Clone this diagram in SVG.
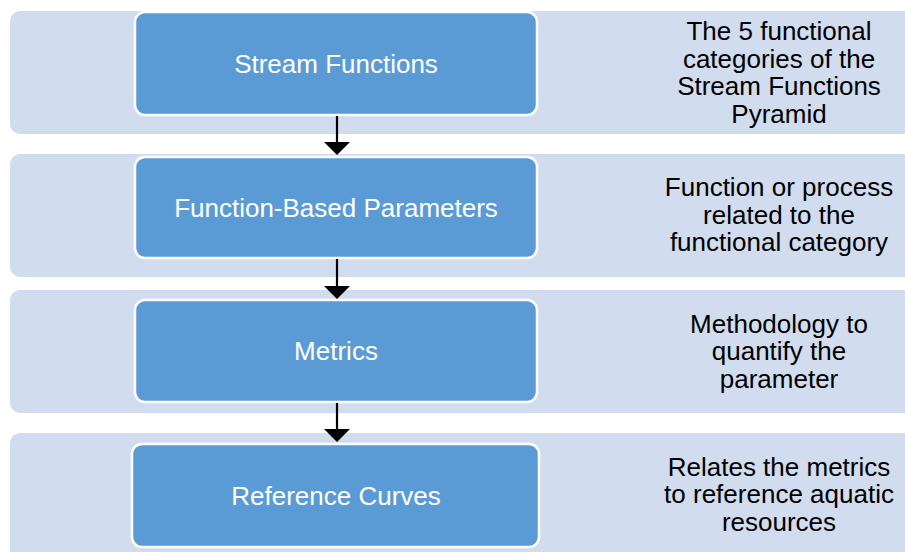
<svg xmlns="http://www.w3.org/2000/svg" width="905" height="552" viewBox="0 0 905 552">
<defs>
<style>
.band{fill:#D1DCEE;}
.box{fill:#5B9BD5;stroke:#FFFFFF;stroke-width:2.5;}
.lbl{font-family:"Liberation Sans",Arial,sans-serif;font-size:26px;fill:#FFFFFF;text-anchor:middle;}
.desc{font-family:"Liberation Sans",Arial,sans-serif;font-size:26px;fill:#000000;text-anchor:middle;}
.conn{stroke:#000000;stroke-width:2.2;fill:none;}
</style>
</defs>
<rect width="905" height="552" fill="#FFFFFF"/>
<g id="band1">
<rect class="band" x="10" y="11" width="910" height="123" rx="10"/>
<text class="desc" x="779" y="40">The 5 functional</text>
<text class="desc" x="779" y="67.5">categories of the</text>
<text class="desc" x="779" y="95">Stream Functions</text>
<text class="desc" x="779" y="122.5">Pyramid</text>
</g>
<g id="band2">
<rect class="band" x="10" y="154" width="910" height="123" rx="10"/>
<text class="desc" x="779" y="196">Function or process</text>
<text class="desc" x="779" y="223.5">related to the</text>
<text class="desc" x="779" y="251">functional category</text>
</g>
<g id="band3">
<rect class="band" x="10" y="290" width="910" height="123" rx="10"/>
<text class="desc" x="779" y="332.5">Methodology to</text>
<text class="desc" x="779" y="360">quantify the</text>
<text class="desc" x="779" y="387.5">parameter</text>
</g>
<g id="band4">
<rect class="band" x="10" y="433" width="910" height="135" rx="10"/>
<text class="desc" x="779" y="475.5">Relates the metrics</text>
<text class="desc" x="779" y="503">to reference aquatic</text>
<text class="desc" x="779" y="530.5">resources</text>
</g>
<g id="node-stream-functions">
<rect class="box" x="135" y="12" width="402" height="103" rx="10"/>
<text class="lbl" x="336" y="73">Stream Functions</text>
</g>
<g id="node-function-based-parameters">
<rect class="box" x="135" y="157" width="402" height="101" rx="10"/>
<text class="lbl" x="336" y="216.5">Function-Based Parameters</text>
</g>
<g id="node-metrics">
<rect class="box" x="135" y="300" width="402" height="102" rx="10"/>
<text class="lbl" x="336" y="360">Metrics</text>
</g>
<g id="node-reference-curves">
<rect class="box" x="132" y="444" width="407" height="103" rx="10"/>
<text class="lbl" x="336" y="504.5">Reference Curves</text>
</g>
<g id="connectors">
<line x1="337" y1="116" x2="337" y2="144" class="conn"/>
<path d="M324,142 L350,142 L337,155 Z" fill="#000000"/>
<line x1="337" y1="259" x2="337" y2="288" class="conn"/>
<path d="M324,286 L350,286 L337,299 Z" fill="#000000"/>
<line x1="337" y1="403" x2="337" y2="431" class="conn"/>
<path d="M324,429 L350,429 L337,442 Z" fill="#000000"/>
</g>
</svg>
